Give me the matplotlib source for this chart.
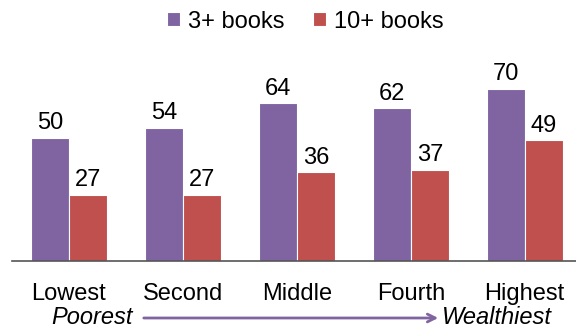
import matplotlib.pyplot as plt
import numpy as np

plt.rcParams['font.family'] = ['Liberation Sans', 'DejaVu Sans']

categories = ["Lowest", "Second", "Middle", "Fourth", "Highest"]
books3 = [50, 54, 64, 62, 70]
books10 = [27, 27, 36, 37, 49]
series_names = ["3+ books", "10+ books"]

PURPLE = "#8064A2"
RED = "#C0504D"
FS = 17

fig = plt.figure(figsize=(5.76, 3.3), dpi=100)
ax = fig.add_axes([12 / 576, 1 - 261 / 330, 1 - 12 / 576, 261 / 330])

x = np.arange(len(categories))
w = 0.335
b1 = ax.bar(x - w / 2, books3, width=w, color=PURPLE, edgecolor="white", linewidth=0.8, label=series_names[0])
b2 = ax.bar(x + w / 2, books10, width=w, color=RED, edgecolor="white", linewidth=0.8, label=series_names[1])

for bars in (b1, b2):
    for b in bars:
        h = b.get_height()
        ax.text(b.get_x() + b.get_width() / 2, h + 1.5, f"{h:.0f}",
                ha="center", va="bottom", fontsize=FS)

ax.set_xlim(-0.5, 4.45)
ax.set_ylim(0, 106)
ax.set_yticks([])
ax.set_xticks(x)
ax.set_xticklabels(categories, fontsize=FS)
ax.tick_params(axis="x", length=0, pad=16)
for s in ["top", "right", "left"]:
    ax.spines[s].set_visible(False)
ax.spines["bottom"].set_color("#555555")
ax.spines["bottom"].set_linewidth(1.2)

ax.legend(loc="upper center", bbox_to_anchor=(0.52, 1.005), ncol=2, frameon=False,
          fontsize=FS, handlelength=0.55, handleheight=0.55, handletextpad=0.35,
          columnspacing=1.2, borderaxespad=0.1)

# wealth arrow below the category labels
fig.text(133 / 576, 1 - 318 / 330, "Poorest", ha="right", va="center",
         fontsize=FS, style="italic")
fig.text(442 / 576, 1 - 318 / 330, "Wealthiest", ha="left", va="center",
         fontsize=FS, style="italic")
ax.annotate("", xy=(441 / 576, 1 - 318 / 330), xytext=(141 / 576, 1 - 318 / 330),
            xycoords="figure fraction", textcoords="figure fraction",
            arrowprops=dict(arrowstyle="->", color=PURPLE, lw=2, mutation_scale=14),
            annotation_clip=False)

fig.savefig("out.png", dpi=100)
